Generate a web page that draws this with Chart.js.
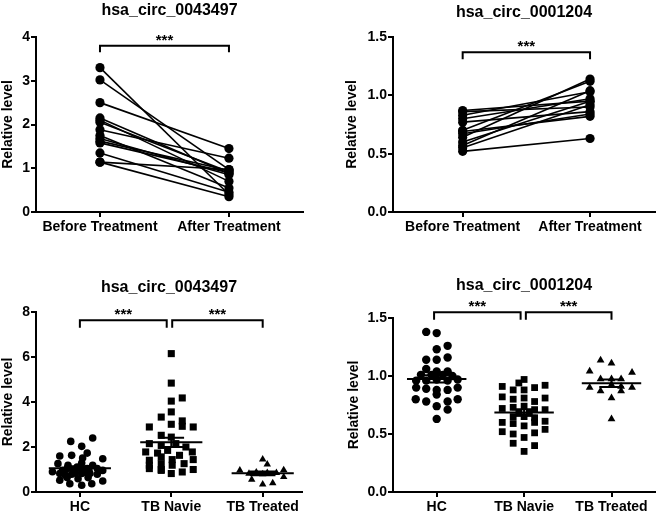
<!DOCTYPE html>
<html>
<head>
<meta charset="utf-8">
<script src="https://cdn.jsdelivr.net/npm/chart.js@4.4.0/dist/chart.umd.min.js"></script>
<style>
  body { margin: 0; background: #fff; }
  #wrap { position: relative; width: 660px; height: 518px; }
  canvas { position: absolute; }
</style>
</head>
<body>
<div id="wrap">
  <canvas id="c1" width="330" height="250" style="left:0;top:0"></canvas>
  <canvas id="c2" width="330" height="250" style="left:330px;top:0"></canvas>
  <canvas id="c3" width="330" height="258" style="left:0;top:260px"></canvas>
  <canvas id="c4" width="330" height="258" style="left:330px;top:260px"></canvas>
</div>
<script>
// categories
const pairLabels = ["Before Treatment", "After Treatment"];
const groupLabels = ["HC", "TB Navie", "TB Treated"];

// top left: hsa_circ_0043497, paired before/after
const before0043497 = [3.30, 3.02, 2.50, 2.15, 2.10, 2.05, 1.88, 1.75, 1.68, 1.62, 1.58, 1.35, 1.14, 1.14];
const after0043497  = [0.40, 0.97, 1.45, 0.88, 0.70, 0.92, 1.23, 0.55, 0.85, 0.95, 0.90, 0.45, 0.35, 0.97];

// top right: hsa_circ_0001204, paired before/after
const before0001204 = [0.87, 0.86, 0.83, 0.80, 0.77, 0.70, 0.69, 0.67, 0.64, 0.60, 0.57, 0.55, 0.52];
const after0001204  = [0.95, 0.90, 1.03, 0.97, 0.86, 1.12, 0.82, 0.84, 1.14, 0.95, 1.04, 0.92, 0.63];

// bottom left: hsa_circ_0043497 by group, [jitter, value]
const hc0043497 = [[-0.10,2.25],[0.14,2.40],[0.02,2.03],[0.08,1.73],[-0.22,1.60],[0.25,1.48],[-0.09,1.63],[0.03,1.51],
  [-0.24,1.26],[-0.13,1.19],[0.02,1.29],[0.14,1.19],[0.25,0.96],[-0.19,0.96],[-0.05,0.99],[0.08,1.04],[-0.22,0.82],
  [-0.09,0.79],[0.02,0.82],[0.19,0.79],[-0.22,0.52],[-0.11,0.37],[0.02,0.30],[0.13,0.37],[0.25,0.49],[-0.02,0.59],
  [0.09,0.64],[-0.14,0.64],[-0.03,1.11],[-0.14,1.04],[0.19,1.04],[0.11,0.82],[-0.30,0.90],[-0.05,0.85],[0.06,0.88],[-0.16,0.75]];
const naive0043497 = [[0,6.15],[0,4.84],[0,4.04],[0.12,4.18],[0,3.56],[-0.11,3.33],[-0.24,2.89],[0,3.01],[0.12,3.16],
  [0.12,2.92],[0.24,2.89],[-0.11,2.52],[0,2.44],[-0.24,2.15],[-0.11,2.07],[0.05,2.15],[0.16,2.00],[-0.28,1.78],
  [-0.15,1.73],[-0.04,1.85],[0.09,1.63],[0.23,1.78],[-0.24,1.41],[-0.11,1.56],[0.01,1.44],[0.24,1.44],[-0.24,1.19],
  [-0.11,1.26],[0.01,1.19],[0.14,1.26],[-0.11,1.00],[-0.24,1.04],[0.24,1.00],[0.12,0.89],[0,0.82],[-0.11,0.96]];
const treated0043497 = [[0,1.45],[0.05,1.23],[-0.25,0.96],[0.23,0.98],[-0.12,0.55],[0,0.34],[0.11,0.40],[0.23,0.67],
  [-0.15,0.82],[0.15,0.85],[-0.07,0.88],[0.05,0.85],[0,0.80]];

// bottom right: hsa_circ_0001204 by group, [jitter, value]
const hc0001204 = [[-0.12,1.38],[0,1.37],[0,1.23],[0.125,1.26],[-0.12,1.14],[0,1.14],[0.125,1.16],[-0.12,1.06],
  [0,1.04],[0.125,1.04],[-0.18,1.01],[-0.06,1.01],[0.07,1.01],[0.18,1.00],[-0.235,0.96],[0.24,0.97],[-0.12,0.96],
  [0,0.97],[0.125,0.96],[-0.235,0.90],[-0.12,0.89],[0,0.88],[0.125,0.88],[0.24,0.90],[0,0.84],[-0.24,0.80],
  [-0.12,0.78],[0.125,0.78],[0.24,0.80],[0,0.74],[0.125,0.71],[0,0.63]];
const naive0001204 = [[-0.25,0.91],[-0.25,0.82],[-0.25,0.72],[-0.25,0.60],[-0.25,0.52],[-0.125,0.50],[-0.125,0.42],
  [0,0.35],[0.12,0.40],[0,0.97],[-0.06,0.94],[-0.125,0.88],[0,0.88],[0.12,0.90],[0.24,0.92],[-0.125,0.80],[0,0.81],
  [0.12,0.78],[0.24,0.81],[-0.125,0.73],[0,0.74],[0.12,0.71],[0.24,0.71],[-0.125,0.65],[0,0.65],[0.12,0.64],
  [-0.125,0.59],[0,0.57],[0.12,0.60],[0.24,0.61],[0.24,0.54],[0,0.47],[0.12,0.51],[-0.06,0.68],[0.06,0.68]];
const treated0001204 = [[-0.125,1.135],[0,1.11],[-0.25,1.04],[0.235,1.03],[-0.125,0.975],[0,0.975],[0.11,0.975],
  [-0.25,0.90],[-0.125,0.87],[0,0.925],[0.11,0.91],[0.11,0.87],[0.235,0.90],[0,0.81],[0,0.63]];

const FONT = '"Liberation Sans", Arial, sans-serif';
Chart.defaults.font.family = FONT;
Chart.defaults.color = '#000';

function mean(a) { return a.reduce((s, v) => s + v, 0) / a.length; }
function sem(a) {
  const m = mean(a);
  return Math.sqrt(a.reduce((s, v) => s + (v - m) * (v - m), 0) / (a.length - 1) / a.length);
}

// title, significance brackets and mean +/- SEM bars
const panelMarks = {
  id: 'panelMarks',
  afterDatasetsDraw(chart, args, opts) {
    const { ctx, chartArea } = chart;
    const x = chart.scales.x, y = chart.scales.y;
    ctx.save();
    ctx.fillStyle = '#000';
    ctx.strokeStyle = '#000';
    ctx.textAlign = 'center';
    ctx.textBaseline = 'alphabetic';
    ctx.font = 'bold 16px ' + FONT;
    ctx.fillText(opts.title, (chartArea.left + chartArea.right) / 2, opts.titleY);

    ctx.lineWidth = 2;
    (opts.brackets || []).forEach(b => {
      const x1 = x.getPixelForValue(b.from), x2 = x.getPixelForValue(b.to);
      const yt = y.getPixelForValue(b.top), yf = y.getPixelForValue(b.foot);
      ctx.beginPath();
      ctx.moveTo(x1, yf); ctx.lineTo(x1, yt); ctx.lineTo(x2, yt); ctx.lineTo(x2, yf);
      ctx.stroke();
      ctx.font = 'bold 15px ' + FONT;
      ctx.fillText('***', (x1 + x2) / 2, yt - 1);
    });

    (opts.groups || []).forEach((g, i) => {
      const vals = g.map(p => p[1]);
      const m = mean(vals), s = sem(vals);
      const ym = y.getPixelForValue(m), yh = y.getPixelForValue(m + s), yl = y.getPixelForValue(m - s);
      const half = x.getPixelForValue(i + 0.34) - x.getPixelForValue(i);
      const cap = x.getPixelForValue(i + 0.14) - x.getPixelForValue(i);
      const xc = x.getPixelForValue(i);
      ctx.lineWidth = 2;
      ctx.beginPath();
      ctx.moveTo(xc - half, ym); ctx.lineTo(xc + half, ym);
      ctx.moveTo(xc - cap, yh); ctx.lineTo(xc + cap, yh);
      ctx.moveTo(xc - cap, yl); ctx.lineTo(xc + cap, yl);
      ctx.moveTo(xc, yh); ctx.lineTo(xc, yl);
      ctx.stroke();
    });
    ctx.restore();
  }
};

function xAxis(labels, min, max, h) {
  return {
    type: 'linear', min: min, max: max,
    afterBuildTicks(s) { s.ticks = labels.map((_, i) => ({ value: i })); },
    afterFit(s) { s.height = h; },
    ticks: {
      callback: v => labels[v], color: '#000', padding: 2, maxRotation: 0, autoSkip: false,
      font: { size: 14, weight: 'bold' }
    },
    grid: { drawOnChartArea: false, tickLength: 5, color: '#000', lineWidth: 2 },
    border: { color: '#000', width: 2 }
  };
}

function yAxis(max, step, w, decimals) {
  return {
    min: 0, max: max,
    afterFit(s) { s.width = w; },
    ticks: {
      stepSize: step, padding: 1, color: '#000',
      callback: v => v.toFixed(decimals),
      font: { size: 14, weight: 'bold' }
    },
    grid: { drawOnChartArea: false, tickLength: 5, color: '#000', lineWidth: 2 },
    border: { color: '#000', width: 2 },
    title: { display: true, text: 'Relative level', color: '#000', padding: 0, font: { size: 14, weight: 'bold' } }
  };
}

function pairedChart(id, before, after, opts) {
  const datasets = before.map((b, i) => ({
    type: 'line',
    data: [{ x: 0, y: b }, { x: 1, y: after[i] }],
    borderColor: '#000', borderWidth: 1.6,
    pointRadius: 4.6, pointBackgroundColor: '#000', pointBorderWidth: 0,
    clip: false
  }));
  return new Chart(document.getElementById(id), {
    type: 'line',
    data: { datasets: datasets },
    options: {
      responsive: false, animation: false,
      layout: { padding: opts.padding },
      plugins: {
        legend: { display: false }, tooltip: { enabled: false },
        panelMarks: { title: opts.title, titleY: opts.titleY, brackets: opts.brackets }
      },
      scales: {
        x: xAxis(pairLabels, opts.xmin, opts.xmax, 28),
        y: yAxis(opts.ymax, opts.step, opts.yw, opts.decimals)
      }
    },
    plugins: [panelMarks]
  });
}

function groupChart(id, groups, opts) {
  const styles = ['circle', 'rect', 'triangle'];
  const datasets = groups.map((g, i) => ({
    type: 'scatter',
    data: g.map(p => ({ x: i + p[0], y: p[1] })),
    pointStyle: styles[i],
    pointRadius: opts.radius[i],
    pointBackgroundColor: '#000', pointBorderWidth: 0,
    clip: false
  }));
  return new Chart(document.getElementById(id), {
    type: 'scatter',
    data: { datasets: datasets },
    options: {
      responsive: false, animation: false,
      layout: { padding: opts.padding },
      plugins: {
        legend: { display: false }, tooltip: { enabled: false },
        panelMarks: { title: opts.title, titleY: opts.titleY, brackets: opts.brackets, groups: groups }
      },
      scales: {
        x: xAxis(groupLabels, opts.xmin, opts.xmax, 26),
        y: yAxis(opts.ymax, opts.step, opts.yw, opts.decimals)
      }
    },
    plugins: [panelMarks]
  });
}

pairedChart('c1', before0043497, after0043497, {
  title: 'hsa_circ_0043497', titleY: 15,
  padding: { left: 0, right: 27, top: 37, bottom: 10 },
  xmin: -0.496, xmax: 1.574, ymax: 4, step: 1, yw: 36, decimals: 0,
  brackets: [{ from: 0, to: 1, top: 3.80, foot: 3.65 }]
});

pairedChart('c2', before0001204, after0001204, {
  title: 'hsa_circ_0001204', titleY: 17,
  padding: { left: 14, right: 5, top: 37, bottom: 10 },
  xmin: -0.547, xmax: 1.51, ymax: 1.5, step: 0.5, yw: 49, decimals: 1,
  brackets: [{ from: 0, to: 1, top: 1.37, foot: 1.31 }]
});

groupChart('c3', [hc0043497, naive0043497, treated0043497], {
  title: 'hsa_circ_0043497', titleY: 32,
  padding: { left: 0, right: 28, top: 52, bottom: 0 },
  xmin: -0.48, xmax: 2.43, ymax: 8, step: 2, yw: 36, decimals: 0,
  radius: [3.8, 5, 4.3],
  brackets: [{ from: 0, to: 0.95, top: 7.63, foot: 7.3 }, { from: 1.01, to: 2, top: 7.63, foot: 7.3 }]
});

groupChart('c4', [hc0001204, naive0001204, treated0001204], {
  title: 'hsa_circ_0001204', titleY: 30,
  padding: { left: 16, right: 3, top: 58, bottom: 0 },
  xmin: -0.5, xmax: 2.5, ymax: 1.5, step: 0.5, yw: 47, decimals: 1,
  radius: [4.2, 4.8, 4.5],
  brackets: [{ from: -0.03, to: 0.96, top: 1.55, foot: 1.485 }, { from: 1.02, to: 2, top: 1.55, foot: 1.485 }]
});
</script>
</body>
</html>
